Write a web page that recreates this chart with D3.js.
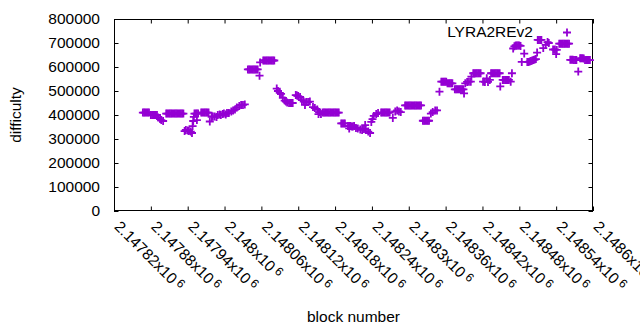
<!DOCTYPE html>
<html>
<head>
<meta charset="utf-8">
<script src="https://cdn.jsdelivr.net/npm/d3@7"></script>
<style>
body { margin: 0; background: #fff; }
svg text { font-family: "Liberation Sans", Arial, sans-serif; font-size: 15.5px; fill: #000; }
</style>
</head>
<body>
<div id="chart"></div>
<script>
// block numbers and difficulty
var blockNumbers = [
    2147867, 2147869, 2147871, 2147873, 2147875, 2147877,
    2147880, 2147882, 2147884, 2147886, 2147888, 2147890,
    2147892, 2147895, 2147897, 2147900,
    2147905, 2147907, 2147909, 2147911, 2147913, 2147915, 2147917, 2147919, 2147921, 2147923, 2147925, 2147927, 2147929, 2147931, 2147933,
    2147935, 2147937, 2147940, 2147942, 2147945, 2147947,
    2147948, 2147949, 2147950,
    2147951, 2147953, 2147955, 2147957, 2147955,
    2147962, 2147964, 2147966, 2147968, 2147970, 2147972, 2147974,
    2147976, 2147979, 2147981, 2147984, 2147987, 2147989, 2147992, 2147994, 2147997, 2147999, 2148002, 2148004, 2148007,
    2148011, 2148014, 2148017, 2148020, 2148024, 2148027, 2148030, 2148033,
    2148038, 2148040, 2148042, 2148044, 2148046, 2148048, 2148050, 2148052, 2148054,
    2148057, 2148058,
    2148063, 2148065, 2148067, 2148069, 2148071, 2148073, 2148075, 2148077, 2148079, 2148081,
    2148085, 2148087, 2148090, 2148092,
    2148095, 2148098, 2148100, 2148102,
    2148105, 2148107, 2148109, 2148111,
    2148116, 2148118, 2148120, 2148123,
    2148126, 2148129, 2148131, 2148133, 2148136, 2148139,
    2148144, 2148147, 2148151, 2148153, 2148154, 2148157,
    2148160, 2148162, 2148164, 2148166, 2148168, 2148170, 2148172, 2148174, 2148176, 2148178, 2148180, 2148182, 2148184, 2148186,
    2148190, 2148192, 2148194, 2148196,
    2148201, 2148203, 2148205, 2148207, 2148209, 2148211, 2148203,
    2148214, 2148217, 2148221, 2148224, 2148227, 2148229, 2148230, 2148234, 2148237,
    2148239, 2148241, 2148243, 2148247, 2148250,
    2148255, 2148257, 2148259, 2148261, 2148263, 2148265, 2148267, 2148269,
    2148274, 2148278, 2148281, 2148284, 2148287,
    2148294, 2148296, 2148298, 2148300, 2148302, 2148304, 2148306, 2148308, 2148310, 2148312, 2148314, 2148316, 2148318, 2148320,
    2148323, 2148325, 2148327, 2148329, 2148331, 2148333,
    2148336, 2148339, 2148343, 2148346,
    2148350,
    2148353, 2148355, 2148357, 2148359, 2148361,
    2148363, 2148365, 2148367, 2148369, 2148371,
    2148375, 2148377, 2148379, 2148381, 2148383, 2148385, 2148387, 2148389, 2148390,
    2148392, 2148395, 2148398, 2148401, 2148402,
    2148405, 2148407, 2148409, 2148411, 2148413, 2148415, 2148417,
    2148421, 2148424, 2148427, 2148429, 2148432,
    2148434, 2148436, 2148438, 2148440, 2148442, 2148444, 2148446, 2148448, 2148449,
    2148453, 2148455, 2148457, 2148459, 2148461, 2148463, 2148466, 2148468,
    2148470, 2148472, 2148474, 2148476, 2148478, 2148480, 2148482,
    2148484, 2148488,
    2148493, 2148495, 2148497, 2148499, 2148501, 2148503, 2148505, 2148507,
    2148509,
    2148510, 2148512, 2148514, 2148516,
    2148519, 2148523, 2148526, 2148528,
    2148535, 2148538, 2148541, 2148540,
    2148545, 2148547, 2148549, 2148551, 2148553, 2148555, 2148557, 2148559, 2148561,
    2148563, 2148565, 2148567, 2148569, 2148571, 2148573,
    2148576,
    2148579, 2148581, 2148583, 2148585,
    2148587, 2148589, 2148591, 2148593, 2148595
];
var difficulty = [
    410000, 410000, 410000, 410000, 410000, 410000,
    400000, 400000, 400000, 400000, 400000, 400000,
    390000, 383000, 379000, 375000,
    406000, 406000, 406000, 406000, 406000, 406000, 406000, 406000, 406000, 406000, 406000, 406000, 406000, 406000, 406000,
    333000, 338000, 335000, 333000, 331000, 325000,
    354000, 375000, 392000,
    406000, 406000, 406000, 406000, 379000,
    410000, 410000, 410000, 410000, 410000, 410000, 410000,
    373000, 392000, 394000, 394000, 392000, 400000, 402000, 400000, 404000, 406000, 402000, 408000, 408000,
    415000, 419000, 423000, 431000, 438000, 442000, 442000, 444000,
    590000, 590000, 590000, 590000, 590000, 590000, 590000, 590000, 590000,
    564000, 619000,
    627000, 627000, 627000, 627000, 627000, 627000, 627000, 627000, 627000, 627000,
    510000, 500000, 492000, 488000,
    471000, 460000, 456000, 452000,
    450000, 450000, 450000, 450000,
    483000, 481000, 479000, 475000,
    462000, 456000, 442000, 454000, 454000, 456000,
    433000, 429000, 423000, 404000, 412000, 404000,
    410000, 410000, 410000, 410000, 410000, 410000, 410000, 410000, 410000, 410000, 410000, 410000, 410000, 410000,
    365000, 365000, 365000, 365000,
    354000, 354000, 354000, 352000, 352000, 354000, 344000,
    346000, 344000, 340000, 338000, 342000, 358000, 338000, 331000, 325000,
    371000, 383000, 396000, 404000, 408000,
    410000, 410000, 410000, 410000, 410000, 410000, 410000, 410000,
    388000, 415000, 419000, 415000, 412000,
    440000, 440000, 440000, 440000, 440000, 440000, 440000, 440000, 440000, 440000, 440000, 440000, 440000, 440000,
    376000, 376000, 376000, 376000, 376000, 376000,
    406000, 412000, 419000, 419000,
    497000,
    539000, 539000, 539000, 539000, 539000,
    532000, 532000, 532000, 532000, 532000,
    507000, 507000, 507000, 507000, 507000, 507000, 507000, 507000, 490000,
    532000, 538000, 539000, 539000, 560000,
    574000, 574000, 574000, 574000, 574000, 574000, 574000,
    539000, 538000, 553000, 538000, 546000,
    574000, 574000, 574000, 574000, 574000, 574000, 574000, 574000, 519000,
    546000, 546000, 546000, 546000, 546000, 546000, 539000, 574000,
    677000, 686000, 690000, 690000, 690000, 690000, 688000,
    621000, 656000,
    621000, 621000, 623000, 625000, 627000, 629000, 631000, 633000,
    660000,
    713000, 713000, 713000, 713000,
    679000, 692000, 704000, 700000,
    673000, 673000, 671000, 654000,
    697000, 697000, 697000, 697000, 697000, 697000, 697000, 697000, 697000,
    630000, 630000, 630000, 629000, 629000, 629000,
    581000,
    636000, 636000, 636000, 635000,
    629000, 629000, 629000, 629000, 629000
];
var xTickValues = [2147820, 2147880, 2147940, 2148000, 2148060, 2148120, 2148180,
    2148240, 2148300, 2148360, 2148420, 2148480, 2148540, 2148600];
var xTickLabels = ["2.14782", "2.14788", "2.14794", "2.148", "2.14806", "2.14812", "2.14818",
    "2.14824", "2.1483", "2.14836", "2.14842", "2.14848", "2.14854", "2.1486"];
var yTickValues = [0, 100000, 200000, 300000, 400000, 500000, 600000, 700000, 800000];
var seriesName = "LYRA2REv2";
var pointColor = "#9400d3";

var width = 640, height = 330;
var plotLeft = 114, plotRight = 593, plotTop = 19, plotBottom = 211;
var tickLen = 4.5;

var svg = d3.select("#chart").append("svg")
    .attr("width", width)
    .attr("height", height);

var x = d3.scaleLinear().domain([2147820, 2148600]).range([plotLeft, plotRight]);
var y = d3.scaleLinear().domain([0, 800000]).range([plotBottom, plotTop]);

// axes with inward ticks on all four sides (gnuplot style)
var yAxis = svg.append("g")
    .attr("transform", "translate(" + plotLeft + ",0)")
    .call(d3.axisLeft(y).tickValues(yTickValues).tickSize(-tickLen).tickPadding(14).tickFormat(d3.format("d")));
svg.append("g")
    .attr("transform", "translate(" + plotRight + ",0)")
    .call(d3.axisRight(y).tickValues(yTickValues).tickSize(-tickLen).tickFormat(""));
var xAxis = svg.append("g")
    .attr("transform", "translate(0," + plotBottom + ")")
    .call(d3.axisBottom(x).tickValues(xTickValues).tickSize(-tickLen).tickFormat(""));
svg.append("g")
    .attr("transform", "translate(0," + plotTop + ")")
    .call(d3.axisTop(x).tickValues(xTickValues).tickSize(-tickLen).tickFormat(""));

svg.selectAll(".domain").remove();
svg.selectAll(".tick line").attr("stroke", "#000").attr("stroke-width", 1);
svg.selectAll("g").attr("font-size", null).attr("font-family", null);
yAxis.selectAll("text")
    .attr("x", -14)
    .attr("text-anchor", "end")
    .style("font-size", "15.5px")
    .attr("fill", "#000");

// rotated x tick labels: "2.14782x10" with a superscript 6
xAxis.selectAll(".tick").each(function(d, i) {
    var t = d3.select(this).append("text")
        .attr("transform", "translate(-1,16.5) rotate(45)")
        .attr("text-anchor", "start")
        .attr("fill", "#000");
    t.append("tspan").text(xTickLabels[i] + "x10");
    t.append("tspan")
        .attr("dx", 3)
        .attr("dy", -4)
        .style("font-size", "12px")
        .text("6");
});

svg.append("rect")
    .attr("x", plotLeft + 0.5)
    .attr("y", plotTop + 0.5)
    .attr("width", plotRight - plotLeft - 1)
    .attr("height", plotBottom - plotTop - 1)
    .attr("fill", "none")
    .attr("stroke", "#000")
    .attr("stroke-width", 1);

// axis titles
svg.append("text")
    .attr("x", (plotLeft + plotRight) / 2)
    .attr("y", 322)
    .attr("text-anchor", "middle")
    .text("block number");
svg.append("text")
    .attr("transform", "translate(21," + ((plotTop + plotBottom) / 2) + ") rotate(-90)")
    .attr("text-anchor", "middle")
    .text("difficulty");

// '+' markers
function plusPath(cx, cy) {
    var s = 4;
    return "M" + (cx - s) + "," + cy + "H" + (cx + s) + "M" + cx + "," + (cy - s) + "V" + (cy + s);
}

var points = blockNumbers.map(function(b, i) { return { block: b, diff: difficulty[i] }; });

svg.append("g")
    .selectAll("path")
    .data(points)
    .enter()
    .append("path")
    .attr("d", function(d) { return plusPath(x(d.block), y(d.diff)); })
    .attr("stroke", pointColor)
    .attr("stroke-width", 1.8)
    .attr("fill", "none");

// key
svg.append("text")
    .attr("x", 533)
    .attr("y", 37)
    .attr("text-anchor", "end")
    .text(seriesName);
svg.append("path")
    .attr("d", plusPath(567, 32.5))
    .attr("stroke", pointColor)
    .attr("stroke-width", 1.8)
    .attr("fill", "none");
</script>
</body>
</html>
